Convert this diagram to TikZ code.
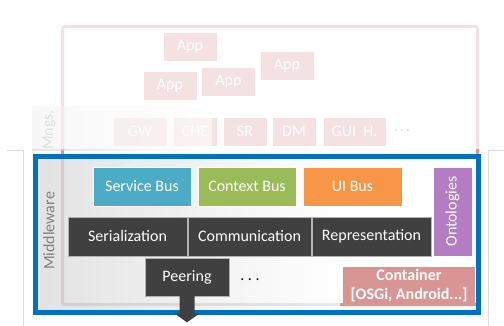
\documentclass[tikz,border=0pt]{standalone}
\usepackage{fontspec}
\setmainfont{Carlito}
\usetikzlibrary{calc}
\definecolor{pinkc}{HTML}{D99594}
\definecolor{bluec}{HTML}{0070C0}
\definecolor{servc}{HTML}{4BACC6}
\definecolor{ctxc}{HTML}{9BBB59}
\definecolor{uic}{HTML}{F79646}
\definecolor{ontc}{HTML}{B47CC1}
\definecolor{darkc}{HTML}{404040}
\definecolor{framec}{HTML}{DDDDDD}
\tikzset{
  box/.style={draw=white, line width=0.8pt, inner sep=0pt, text=white,
    font=\fontsize{16}{19}\selectfont},
  appbox/.style={box, fill=pinkc, minimum width=54pt, minimum height=29pt},
  mgbox/.style={box, fill=pinkc, minimum height=29pt},
  busbox/.style={box, minimum width=98pt, minimum height=39pt},
  darkbox/.style={box, fill=darkc, draw=gray!60, minimum height=39pt},
  sidelabel/.style={rotate=90, inner sep=0pt, font=\fontsize{16}{19}\selectfont},
  dots/.style={inner sep=0pt, font=\fontsize{16}{19}\selectfont}
}
\begin{document}
\begin{tikzpicture}[x=1pt,y=-1pt]
\useasboundingbox (0,0) rectangle (504,326);
% outer pink frame
\draw[pinkc, line width=3pt, rounded corners=2pt] (62.5,26.5) rectangle (477.5,304.5);
% apps
\node[appbox] (app1) at (190,46.5) {App};
\node[appbox] (app2) at (170,86) {App};
\node[appbox] (app3) at (228.5,81.5) {App};
\node[appbox] (app4) at (287,66) {App};
% managers
\node[mgbox, minimum width=54pt] (gw) at (140,131.5) {GW};
\node[mgbox, minimum width=44pt] (che) at (195,131.5) {CHE};
\node[mgbox, minimum width=44pt] (sr) at (245,131.5) {SR};
\node[mgbox, minimum width=44pt] (dm) at (294,131.5) {DM};
\node[mgbox, minimum width=63pt] (gui) at (354.5,131.5) {GUI\ \ H.};
\node[dots, text=gray] (mdots) at (402,131) {.\hspace{0.12em}.\hspace{0.12em}.};
% Mngs band
\shade[left color=gray!35, right color=white, fill opacity=0.6] (32,107) rectangle (212,151);
\node[sidelabel, text=gray!90] (mngs) at (49,130) {Mngs.};
% fading overlay
\fill[white, fill opacity=0.72] (0,0) rectangle (504,149);
% slide frame lines
\draw[framec, line width=0.8pt] (7,150) -- (23,150) -- (23,326);
\draw[framec, line width=0.8pt] (504,150) -- (488,150) -- (488,326);
% middleware background
\shade[left color=gray!30, right color=white, fill opacity=0.75] (37,159) rectangle (340,310);
\node[sidelabel, text=gray] (mw) at (49,231) {Middleware};
% blue frame
\draw[bluec, line width=5pt] (35,157) rectangle (478.5,312);
% buses
\node[busbox, fill=servc] (sb) at (142,186.5) {Service Bus};
\node[busbox, fill=ctxc] (cb) at (247,186.5) {Context Bus};
\node[busbox, fill=uic, minimum width=99pt] (ub) at (352.5,186.5) {UI Bus};
\node[box, fill=ontc, minimum width=39pt, minimum height=89pt] (ont) at (452.5,211.5) {};
\node[sidelabel, text=white] (ontl) at (ont.center) {Ontologies};
% dark layer
\node[darkbox, minimum width=119pt] (ser) at (127.5,236.5) {Serialization};
\node[darkbox, minimum width=123pt] (com) at (249.5,236.5) {Communication};
\node[darkbox, minimum width=119pt] (rep) at (371.5,236.5) {Representation};
% container
\node[box, fill=pinkc, draw=none, minimum width=132pt, minimum height=37pt, align=center,
  font=\bfseries\fontsize{16}{19}\selectfont] (cont) at (409,285.5) {Container\\{[OSGi, Android...]}};
% peering
\node[darkbox, minimum width=84pt, minimum height=38pt] (peer) at (187,277) {Peering};
\fill[darkc] ($(peer.south)+(-7.5,-0.5)$) -- ++(0,17.5) -- ++(-5,0) -- ++(12.5,9) -- ++(12.5,-9)
  -- ++(-5,0) -- ++(0,-17.5) -- cycle;
\node[dots, text=black] (pdots) at (250,280) {.\hspace{0.22em}.\hspace{0.22em}.};
\end{tikzpicture}
\end{document}
